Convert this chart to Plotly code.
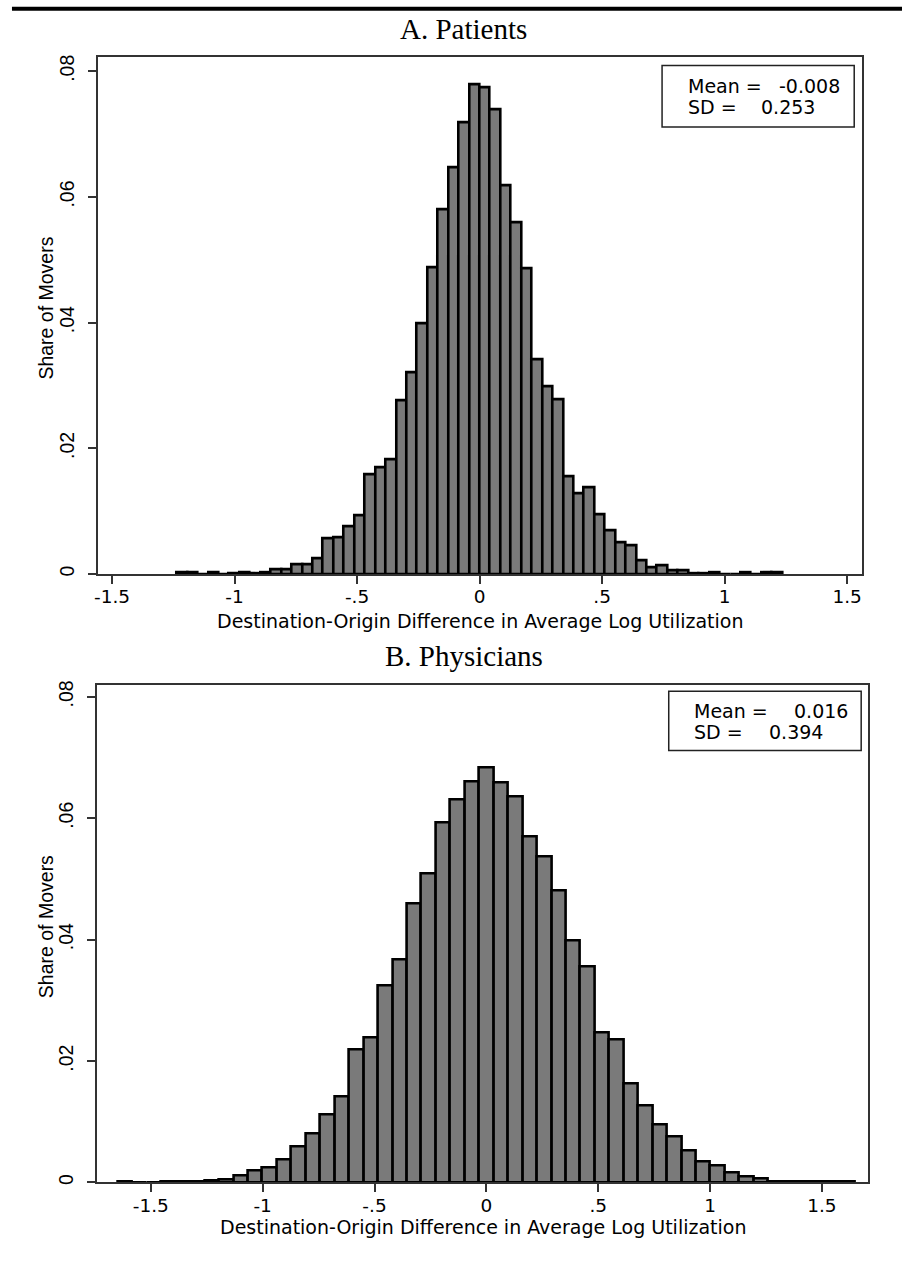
import plotly.graph_objects as go

# ---------------------------------------------------------------------------
# Histogram data: share of movers per bin of the destination-origin difference
# in average log utilization.
# ---------------------------------------------------------------------------

# Panel A (patients): bins of equal width, first bin starts at -29 widths
patients_bin_width = 0.0426
patients_first_bin = -29
patients_share = [
    0.0002, 0.0002, 0.0000, 0.0002, 0.0000, 0.0001, 0.0002, 0.0001, 0.0003, 0.0007,
    0.0007, 0.0015, 0.0015, 0.0025, 0.0056, 0.0058, 0.0076, 0.0094, 0.0159, 0.0169,
    0.0182, 0.0277, 0.0321, 0.0398, 0.0488, 0.0580, 0.0647, 0.0719, 0.0779,
    0.0775, 0.0740, 0.0618, 0.0559, 0.0486, 0.0342, 0.0298, 0.0278, 0.0156, 0.0129,
    0.0138, 0.0095, 0.0069, 0.0050, 0.0045, 0.0021, 0.0011, 0.0013, 0.0006, 0.0006,
    0.0001, 0.0001, 0.0002, 0.0000, 0.0000, 0.0002, 0.0000, 0.0002, 0.0002,
]
patients_mean = "-0.008"
patients_sd = "0.253"

# Panel B (physicians): bins centred on multiples of the bin width
physicians_bin_width = 0.0646
physicians_first_bin = -25
physicians_share = [
    0.0001, 0.0000, 0.0000, 0.0001, 0.0001, 0.0001, 0.0003, 0.0005, 0.0011, 0.0019,
    0.0024, 0.0038, 0.0059, 0.0081, 0.0111, 0.0142, 0.0218, 0.0239, 0.0324, 0.0367,
    0.0459, 0.0508, 0.0592, 0.0630, 0.0661, 0.0683, 0.0658, 0.0636, 0.0569, 0.0536,
    0.0481, 0.0398, 0.0355, 0.0246, 0.0235, 0.0163, 0.0127, 0.0096, 0.0075, 0.0053,
    0.0035, 0.0027, 0.0016, 0.0009, 0.0007, 0.0002, 0.0001, 0.0001, 0.0001, 0.0001,
    0.0001,
]
physicians_mean = "0.016"
physicians_sd = "0.394"

x_tick_values = [-1.5, -1, -0.5, 0, 0.5, 1, 1.5]
x_tick_labels = ["-1.5", "-1", "-.5", "0", ".5", "1", "1.5"]
y_tick_values = [0, 0.02, 0.04, 0.06, 0.08]
y_tick_labels = ["0", ".02", ".04", ".06", ".08"]

panel_titles = ["A. Patients", "B. Physicians"]
x_title = "Destination-Origin Difference in Average Log Utilization"
y_title = "Share of Movers"

# ---------------------------------------------------------------------------
# Page geometry (pixels)
# ---------------------------------------------------------------------------
W, H = 902, 1268


def px_x(p):
    return p / W


def px_y(p):
    return 1 - p / H


SANS = "DejaVu Sans, Liberation Sans, Arial, sans-serif"
ARIAL = "Liberation Sans, Arial, sans-serif"
SERIF = "Liberation Serif, Times New Roman, serif"
AXIS_COLOR = "#333333"

panels = [
    dict(  # A
        left=94.0, right=861.7, top=53.7, bottom=573.2,
        xrange=[-1.559, 1.560], yrange=[0, 0.0822],
        title_y=25.0, xtitle_y=620.0, ytitle_y=306.0,
        box=(661.0, 61.8, 854.0, 123.6),
        mean_row=82.3, sd_row=103.8, label_x=685.0,
        mean_x=776.7, sd_x=758.0,
    ),
    dict(  # B
        left=93.3, right=868.3, top=684.4, bottom=1185.0,
        xrange=[-1.741, 1.708], yrange=[0, 0.0820],
        title_y=656.0, xtitle_y=1230.0, ytitle_y=928.0,
        box=(667.7, 691.0, 861.0, 750.7),
        mean_row=711.0, sd_row=732.5, label_x=690.7,
        mean_x=791.7, sd_x=766.7,
    ),
]

hist_data = [
    (patients_share, patients_bin_width, patients_first_bin, patients_mean, patients_sd, 0.5),
    (physicians_share, physicians_bin_width, physicians_first_bin, physicians_mean, physicians_sd, 0.0),
]

fig = go.Figure()
layout = dict(
    width=W, height=H,
    margin=dict(l=0, r=0, t=0, b=0),
    paper_bgcolor="white", plot_bgcolor="white",
    showlegend=False, bargap=0,
    shapes=[], annotations=[],
)

for i, (geo, (share, width, first, mean_txt, sd_txt, offset)) in enumerate(zip(panels, hist_data)):
    suffix = "" if i == 0 else str(i + 1)
    centers = [(first + k + offset) * width for k in range(len(share))]
    fig.add_trace(go.Bar(
        x=centers, y=share, width=width,
        marker=dict(color="#7a7a7a", line=dict(color="black", width=2.6)),
        xaxis="x" + suffix, yaxis="y" + suffix,
        hoverinfo="x+y",
    ))

    common = dict(
        showline=True, linecolor=AXIS_COLOR, linewidth=2, mirror=True,
        ticks="outside", ticklen=8, tickwidth=2, tickcolor=AXIS_COLOR,
        showgrid=False, zeroline=False,
    )
    layout["xaxis" + suffix] = dict(
        common,
        domain=[px_x(geo["left"]), px_x(geo["right"])],
        range=geo["xrange"], anchor="y" + suffix,
        tickmode="array", tickvals=x_tick_values, ticktext=x_tick_labels,
        tickfont=dict(family=SANS, size=18.5, color="black"),
        ticklabelstandoff=-3,
    )
    layout["yaxis" + suffix] = dict(
        common,
        domain=[px_y(geo["bottom"]), px_y(geo["top"])],
        range=geo["yrange"], anchor="x" + suffix,
        tickmode="array", tickvals=y_tick_values, ticktext=y_tick_labels,
        tickangle=-90,
        tickfont=dict(family=ARIAL, size=19.5, color="black"),
        ticklabelstandoff=6,
    )

    # panel title
    layout["annotations"].append(dict(
        text=panel_titles[i], xref="paper", yref="paper",
        x=px_x(462), y=px_y(geo["title_y"]), xanchor="center", yanchor="middle",
        showarrow=False, font=dict(family=SERIF, size=29, color="black"),
    ))
    # axis titles
    layout["annotations"].append(dict(
        text=x_title, xref="paper", yref="paper",
        x=px_x((geo["left"] + geo["right"]) / 2), y=px_y(geo["xtitle_y"]),
        xanchor="center", yanchor="middle",
        showarrow=False, font=dict(family=SANS, size=19, color="black"),
    ))
    layout["annotations"].append(dict(
        text=y_title, xref="paper", yref="paper", textangle=-90,
        x=px_x(42.5), y=px_y(geo["ytitle_y"]),
        xanchor="center", yanchor="middle",
        showarrow=False, font=dict(family=ARIAL, size=19.5, color="black"),
    ))

    # summary statistics box
    bx0, by0, bx1, by1 = geo["box"]
    layout["shapes"].append(dict(
        type="rect", xref="paper", yref="paper",
        x0=px_x(bx0), x1=px_x(bx1), y0=px_y(by1), y1=px_y(by0),
        line=dict(color="#222222", width=1.5), fillcolor="white",
    ))
    for txt, xx, yy in [
        ("Mean =", geo["label_x"], geo["mean_row"]),
        (mean_txt, geo["mean_x"], geo["mean_row"]),
        ("SD =", geo["label_x"], geo["sd_row"]),
        (sd_txt, geo["sd_x"], geo["sd_row"]),
    ]:
        layout["annotations"].append(dict(
            text=txt, xref="paper", yref="paper",
            x=px_x(xx), y=px_y(yy), xanchor="left", yanchor="middle",
            showarrow=False, font=dict(family=SANS, size=19, color="black"),
        ))

# heavy rule across the top of the page
layout["shapes"].append(dict(
    type="line", xref="paper", yref="paper",
    x0=px_x(8), x1=1, y0=px_y(4.7), y1=px_y(4.7),
    line=dict(color="black", width=4),
))

fig.update_layout(**layout)
fig.write_html("out.html")
